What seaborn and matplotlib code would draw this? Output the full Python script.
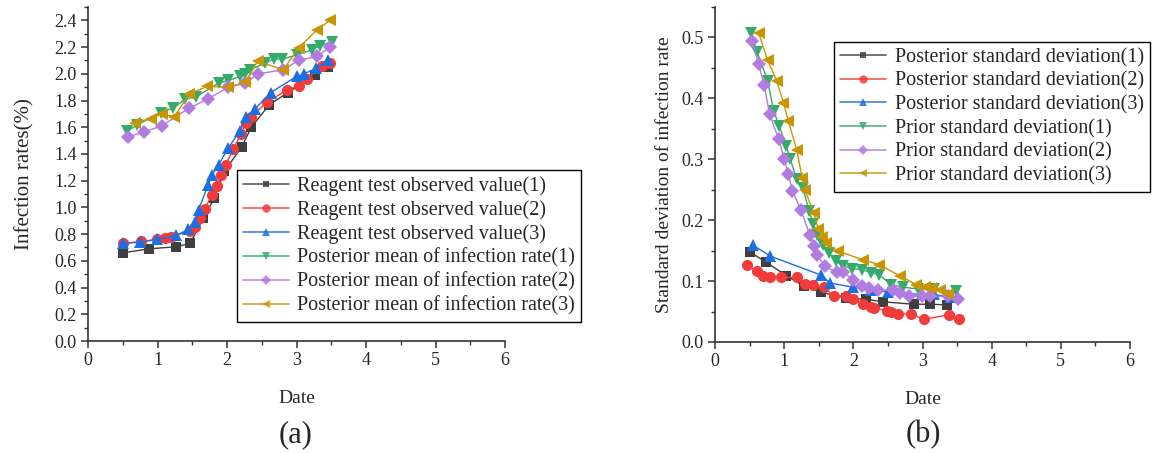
import numpy as np
import pandas as pd
import matplotlib
matplotlib.use("Agg")
import matplotlib.pyplot as plt
from matplotlib.ticker import MultipleLocator, FormatStrFormatter
import seaborn as sns

# ---------------- Panel (a) data ----------------
obs1_x = [0.50, 0.88, 1.26, 1.47, 1.66, 1.82, 1.96, 2.21, 2.35, 2.61, 2.88, 3.27, 3.46]
obs1_y = [0.66, 0.69, 0.705, 0.73, 0.92, 1.07, 1.27, 1.45, 1.60, 1.77, 1.86, 1.99, 2.05]
obs2_x = [0.51, 0.76, 0.99, 1.11, 1.19, 1.47, 1.54, 1.61, 1.68, 1.78, 1.85, 1.92, 1.98,
          2.09, 2.20, 2.27, 2.35, 2.58, 2.87, 3.03, 3.15, 3.36, 3.48]
obs2_y = [0.73, 0.745, 0.76, 0.77, 0.78, 0.825, 0.855, 0.92, 0.99, 1.09, 1.16, 1.24, 1.32,
          1.435, 1.55, 1.63, 1.68, 1.79, 1.88, 1.91, 1.96, 2.06, 2.08]
obs3_x = [0.51, 0.75, 0.99, 1.27, 1.44, 1.54, 1.59, 1.73, 1.78, 1.88, 2.02, 2.18, 2.28,
          2.41, 2.63, 3.00, 3.11, 3.28, 3.46]
obs3_y = [0.73, 0.74, 0.76, 0.79, 0.835, 0.89, 0.98, 1.17, 1.24, 1.32, 1.445, 1.57, 1.68,
          1.74, 1.86, 1.98, 2.00, 2.04, 2.10]
pm1_x = [0.56, 0.70, 1.05, 1.23, 1.40, 1.56, 1.88, 2.02, 2.19, 2.26, 2.33, 2.55, 2.67,
         2.79, 3.00, 3.22, 3.34, 3.51]
pm1_y = [1.57, 1.615, 1.71, 1.745, 1.81, 1.83, 1.93, 1.95, 1.98, 2.00, 2.03, 2.08, 2.11,
         2.11, 2.14, 2.18, 2.21, 2.24]
pm2_x = [0.58, 0.81, 1.06, 1.46, 1.72, 2.02, 2.26, 2.45, 2.81, 3.03, 3.29, 3.48]
pm2_y = [1.53, 1.565, 1.61, 1.745, 1.81, 1.90, 1.93, 2.00, 2.03, 2.10, 2.13, 2.20]
pm3_x = [0.68, 0.90, 1.06, 1.24, 1.46, 1.71, 2.01, 2.26, 2.44, 2.81, 3.03, 3.29, 3.48]
pm3_y = [1.635, 1.665, 1.70, 1.68, 1.85, 1.905, 1.90, 1.935, 2.095, 2.03, 2.195, 2.325, 2.40]

labels_a = ["Reagent test observed value(1)", "Reagent test observed value(2)",
            "Reagent test observed value(3)", "Posterior mean of infection rate(1)",
            "Posterior mean of infection rate(2)", "Posterior mean of infection rate(3)"]

# ---------------- Panel (b) data ----------------
ps1_x = [0.50, 0.74, 1.03, 1.28, 1.53, 1.89, 2.19, 2.43, 2.87, 3.11, 3.35]
ps1_y = [0.148, 0.131, 0.109, 0.092, 0.082, 0.072, 0.070, 0.066, 0.062, 0.062, 0.061]
ps2_x = [0.46, 0.60, 0.70, 0.80, 0.96, 1.18, 1.30, 1.42, 1.57, 1.72, 1.90, 1.99, 2.14,
         2.25, 2.30, 2.48, 2.55, 2.65, 2.84, 3.02, 3.39, 3.53]
ps2_y = [0.126, 0.117, 0.109, 0.106, 0.106, 0.106, 0.096, 0.093, 0.090, 0.076, 0.076,
         0.070, 0.063, 0.057, 0.056, 0.0515, 0.049, 0.046, 0.046, 0.037, 0.045, 0.038]
ps3_x = [0.55, 0.80, 1.53, 1.66, 1.99, 2.26, 2.50, 2.99, 3.16, 3.40]
ps3_y = [0.159, 0.141, 0.110, 0.097, 0.090, 0.086, 0.082, 0.078, 0.078, 0.074]
pr1_x = [0.52, 0.61, 0.76, 0.85, 0.93, 1.03, 1.09, 1.18, 1.27, 1.36, 1.42, 1.48, 1.56,
         1.65, 1.75, 1.85, 1.98, 2.12, 2.26, 2.37, 2.55, 2.72, 2.94, 3.16, 3.49]
pr1_y = [0.507, 0.476, 0.429, 0.379, 0.354, 0.322, 0.300, 0.267, 0.253, 0.215, 0.193,
         0.175, 0.160, 0.146, 0.1325, 0.1255, 0.120, 0.119, 0.1135, 0.1107, 0.094, 0.090,
         0.087, 0.087, 0.083]
pr2_x = [0.54, 0.63, 0.71, 0.79, 0.92, 1.00, 1.06, 1.12, 1.24, 1.37, 1.43, 1.47, 1.59,
         1.76, 1.85, 2.00, 2.12, 2.22, 2.36, 2.58, 2.67, 2.81, 2.99, 3.11, 3.37, 3.52]
pr2_y = [0.494, 0.457, 0.422, 0.374, 0.333, 0.301, 0.276, 0.248, 0.2175, 0.176, 0.157,
         0.1435, 0.124, 0.1145, 0.1145, 0.1025, 0.0915, 0.089, 0.085, 0.085, 0.0806,
         0.076, 0.075, 0.075, 0.075, 0.071]
pr3_x = [0.63, 0.76, 0.89, 0.99, 1.06, 1.18, 1.26, 1.30, 1.43, 1.49, 1.55, 1.60, 1.78,
         2.14, 2.37, 2.67, 2.91, 3.03, 3.13, 3.25, 3.37]
pr3_y = [0.508, 0.463, 0.429, 0.393, 0.363, 0.316, 0.270, 0.249, 0.212, 0.186, 0.173,
         0.163, 0.149, 0.135, 0.127, 0.109, 0.094, 0.090, 0.089, 0.086, 0.078]

labels_b = ["Posterior standard deviation(1)", "Posterior standard deviation(2)",
            "Posterior standard deviation(3)", "Prior standard deviation(1)",
            "Prior standard deviation(2)", "Prior standard deviation(3)"]

xticks = [0, 1, 2, 3, 4, 5, 6]
xlabel = "Date"
ylabel_a = "Infection rates(%)"
ylabel_b = "Standard deviation of infection rate"

colors = ["#3f3f3f", "#f23b3b", "#1c6fe0", "#34ab6a", "#b27be0", "#c99503"]
markers = ["s", "o", "^", "v", "D", "<"]
msizes = [6.5, 8, 8.5, 8.5, 7, 8.5]

sns.set_theme(style="ticks")
plt.rcParams["font.family"] = ["Liberation Serif", "DejaVu Serif"]

fig = plt.figure(figsize=(11.57, 4.53), dpi=100)
W, H = 1157, 453
ax_a = fig.add_axes([88 / W, 1 - 341 / H, 417 / W, 334 / H])
ax_b = fig.add_axes([715 / W, 1 - 342 / H, 415 / W, 335 / H])

series_a = [(obs1_x, obs1_y), (obs2_x, obs2_y), (obs3_x, obs3_y),
            (pm1_x, pm1_y), (pm2_x, pm2_y), (pm3_x, pm3_y)]
series_b = [(ps1_x, ps1_y), (ps2_x, ps2_y), (ps3_x, ps3_y),
            (pr1_x, pr1_y), (pr2_x, pr2_y), (pr3_x, pr3_y)]


def draw(ax, series, labels):
    for i, ((xs, ys), lab) in enumerate(zip(series, labels)):
        df = pd.DataFrame({"x": xs, "y": ys})
        sns.lineplot(data=df, x="x", y="y", ax=ax, color=colors[i], marker=markers[i],
                     markersize=msizes[i], markeredgewidth=0, linewidth=1.0,
                     estimator=None, sort=False, label=lab, zorder=3 + i * 0.1)


draw(ax_a, series_a, labels_a)
draw(ax_b, series_b, labels_b)

tick_fs = 13
label_fs = 14
for ax in (ax_a, ax_b):
    ax.set_xlim(0, 6)
    ax.set_xticks(xticks)
    ax.xaxis.set_minor_locator(MultipleLocator(0.5))
    ax.set_xlabel(xlabel, fontsize=label_fs, labelpad=15)
    for side in ("top", "right"):
        ax.spines[side].set_visible(False)
    for side in ("left", "bottom"):
        ax.spines[side].set_linewidth(1.2)
        ax.spines[side].set_color("#333333")
    ax.tick_params(which="major", direction="out", length=5, width=1.1, color="#333333",
                   labelsize=tick_fs, pad=3)
    ax.tick_params(which="minor", direction="out", length=3, width=1.0, color="#333333")
    ax.grid(False)

ax_a.set_ylim(0, 2.5)
ax_a.yaxis.set_minor_locator(MultipleLocator(0.1))
ax_a.set_yticks(np.round(np.arange(0, 2.41, 0.2), 1))
ax_a.yaxis.set_major_formatter(FormatStrFormatter("%.1f"))
ax_a.set_ylabel(ylabel_a, fontsize=label_fs + 1, labelpad=14)

ax_b.set_ylim(0, 0.55)
ax_b.yaxis.set_minor_locator(MultipleLocator(0.05))
ax_b.set_yticks(np.round(np.arange(0, 0.51, 0.1), 1))
ax_b.yaxis.set_major_formatter(FormatStrFormatter("%.1f"))
ax_b.set_ylabel(ylabel_b, fontsize=label_fs, labelpad=6)


def legend(ax, anchor):
    leg = ax.legend(loc="upper left", bbox_to_anchor=anchor, borderaxespad=0,
                    fontsize=14.5, frameon=True, fancybox=False, framealpha=1,
                    edgecolor="black", handlelength=2.3, handletextpad=0.4,
                    labelspacing=0.22, borderpad=0.3, markerscale=0.75)
    leg.get_frame().set_linewidth(1.0)
    for h in leg.get_lines():
        h.set_linewidth(1.2)
        h.set_alpha(0.85)
    return leg


legend(ax_a, (0.357, 0.512))
legend(ax_b, (0.287, 0.896))

fig.text(296 / W, 1 - 435 / H, "(a)", ha="center", va="center", fontsize=22)
fig.text(923 / W, 1 - 435 / H, "(b)", ha="center", va="center", fontsize=22)

fig.savefig("out.png", dpi=100)
